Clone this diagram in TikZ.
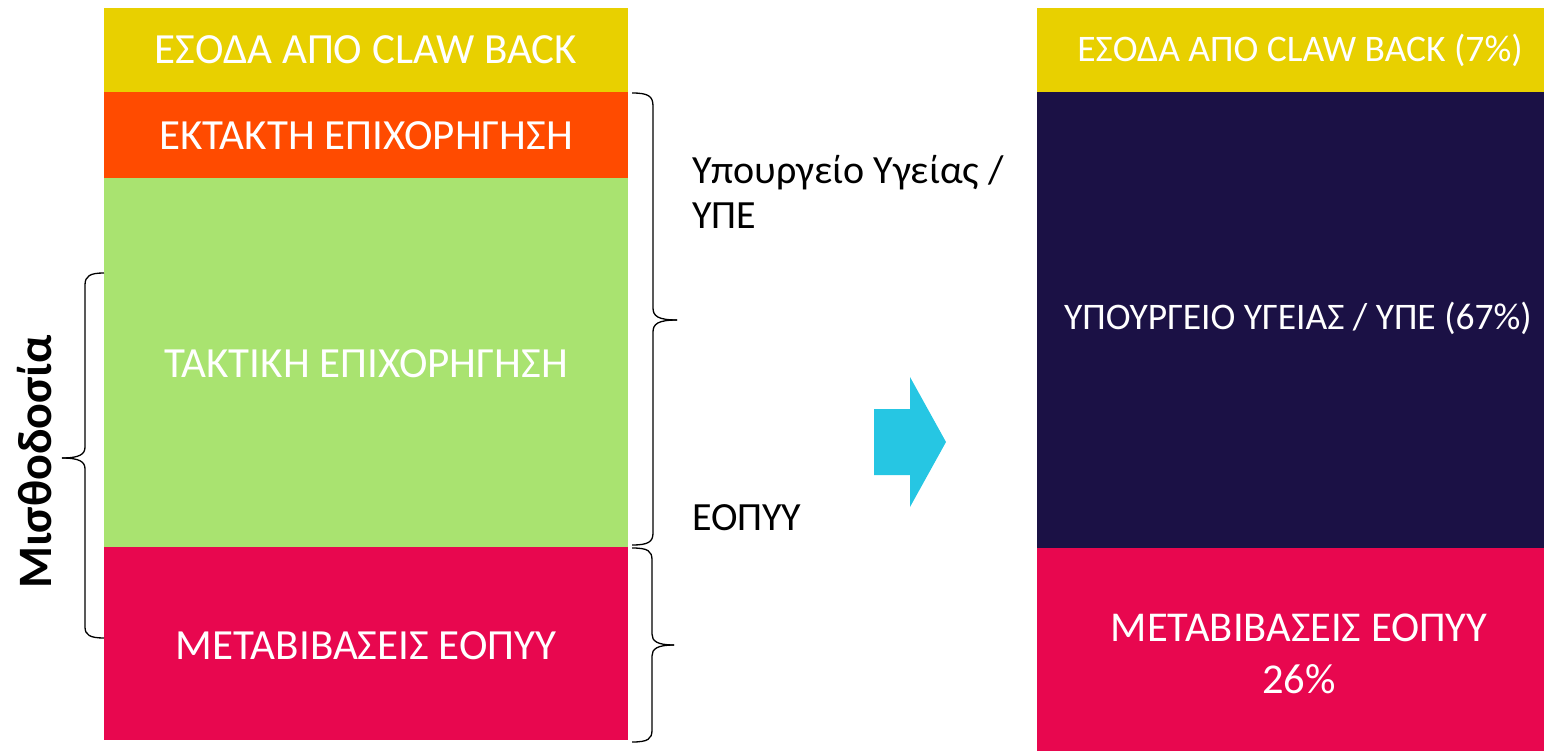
\documentclass[tikz,border=0pt]{standalone}
\usepackage{fontspec}
\setmainfont{Carlito}
\definecolor{cyel}{HTML}{E8D000}
\definecolor{corg}{HTML}{FF4B00}
\definecolor{cgrn}{HTML}{A9E370}
\definecolor{cred}{HTML}{E8074F}
\definecolor{cnav}{HTML}{1B1145}
\definecolor{carr}{HTML}{26C6E3}
\begin{document}
\begin{tikzpicture}[x=1pt,y=-1pt,
  blk/.style={draw=none,text=white,font=\fontsize{43}{50}\selectfont,align=center,inner sep=0pt},
  rblk/.style={blk,font=\fontsize{37.5}{45}\selectfont},
  lbl/.style={anchor=west,text=black,font=\fontsize{40}{45}\selectfont,align=left,inner sep=0pt},
  brc/.style={draw=black,line width=1.3pt}]
\useasboundingbox (0,0) rectangle (1544,751);
% left column
\fill[cyel] (104,8) rectangle (628,92);
\fill[corg] (104,92) rectangle (628,178);
\fill[cgrn] (104,178) rectangle (628,547);
\fill[cred] (104,547) rectangle (628,740);
\node[blk] (l1) at (366,50) {ΕΣΟΔΑ ΑΠΟ CLAW BACK};
\node[blk] (l2) at (366,136) {ΕΚΤΑΚΤΗ ΕΠΙΧΟΡΗΓΗΣΗ};
\node[blk] (l3) at (366,364) {ΤΑΚΤΙΚΗ ΕΠΙΧΟΡΗΓΗΣΗ};
\node[blk] (l4) at (366,646) {ΜΕΤΑΒΙΒΑΣΕΙΣ ΕΟΠΥΥ};
% right column
\fill[cyel] (1037,8) rectangle (1544,92);
\fill[cnav] (1037,92) rectangle (1544,548);
\fill[cred] (1037,548) rectangle (1544,751);
\node[rblk] (r1) at (1300,50) {ΕΣΟΔΑ ΑΠΟ CLAW BACK (7\%)};
\node[rblk] (r2) at (1298,318) {ΥΠΟΥΡΓΕΙΟ ΥΓΕΙΑΣ / ΥΠΕ (67\%)};
\node[blk,font=\fontsize{42.5}{52}\selectfont] (r3) at (1299,654) {ΜΕΤΑΒΙΒΑΣΕΙΣ ΕΟΠΥΥ\\26\%};
% labels
\node[lbl] (t1) at (692,192) {Υπουργείο Υγείας /\\ΥΠΕ};
\node[lbl] (t2) at (692,518) {ΕΟΠΥΥ};
\node[rotate=90,font=\fontsize{48}{50}\selectfont\bfseries,inner sep=0pt] (m) at (35,462) {Μισθοδοσία};
% arrow
\fill[carr] (874,409) -- (910,409) -- (910,377) -- (946,442) -- (910,507) -- (910,475) -- (874,475) -- cycle;
% right brace 1 (93..545, tip 320)
\draw[brc] (632,93) .. controls (648,93) and (653,96) .. (653,106)
  -- (653,308) .. controls (653,316) and (658,320) .. (677,320);
\draw[brc] (677,320) .. controls (658,320) and (653,324) .. (653,332)
  -- (653,533) .. controls (653,542) and (648,545) .. (632,545);
% right brace 2 (548..742, tip 645)
\draw[brc] (632,548) .. controls (648,548) and (652,551) .. (652,560)
  -- (652,634) .. controls (652,641) and (657,645) .. (674,645);
\draw[brc] (674,645) .. controls (657,645) and (652,649) .. (652,656)
  -- (652,730) .. controls (652,739) and (648,742) .. (632,742);
% left brace (273..638, tip 458)
\draw[brc] (104,273) .. controls (90,273) and (85,276) .. (85,285)
  -- (85,447) .. controls (85,454) and (80,458) .. (62,458);
\draw[brc] (62,458) .. controls (80,458) and (85,462) .. (85,469)
  -- (85,627) .. controls (85,635) and (90,638) .. (104,638);
\end{tikzpicture}
\end{document}
